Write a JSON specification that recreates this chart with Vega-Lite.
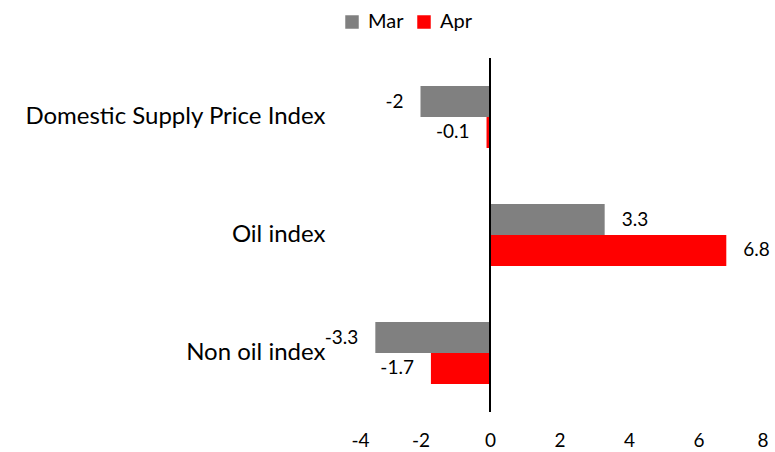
{
  "$schema": "https://vega.github.io/schema/vega-lite/v6.json",
  "width": 417,
  "height": 354,
  "autosize": {"type": "none"},
  "padding": {"left": 351, "top": 58, "right": 7, "bottom": 40},
  "background": "white",
  "config": {
    "view": {"stroke": null},
    "font": "Lato",
    "text": {"font": "Lato"}
  },
  "data": {
    "values": [
      {"category": "Domestic Supply Price Index", "month": "Mar", "value": -2, "label": "-2"},
      {"category": "Domestic Supply Price Index", "month": "Apr", "value": -0.1, "label": "-0.1"},
      {"category": "Oil index", "month": "Mar", "value": 3.3, "label": "3.3"},
      {"category": "Oil index", "month": "Apr", "value": 6.8, "label": "6.8"},
      {"category": "Non oil index", "month": "Mar", "value": -3.3, "label": "-3.3"},
      {"category": "Non oil index", "month": "Apr", "value": -1.7, "label": "-1.7"}
    ]
  },
  "encoding": {
    "y": {
      "field": "category",
      "type": "nominal",
      "sort": ["Domestic Supply Price Index", "Oil index", "Non oil index"],
      "scale": {"paddingInner": 0.475, "paddingOuter": 0.2375},
      "axis": {
        "title": null,
        "domain": false,
        "ticks": false,
        "labelPadding": 26,
        "labelFontSize": 24,
        "labelColor": "#000000",
        "labelFont": "Lato",
        "labelLimit": 400
      }
    },
    "yOffset": {"field": "month", "type": "nominal", "sort": ["Mar", "Apr"]},
    "x": {
      "field": "value",
      "type": "quantitative",
      "scale": {"domain": [-4, 8], "nice": false},
      "axis": {
        "title": null,
        "domain": false,
        "ticks": false,
        "grid": false,
        "values": [-4, -2, 0, 2, 4, 6, 8],
        "labelExpr": "'' + datum.value",
        "labelPadding": 19,
        "labelFontSize": 19,
        "labelColor": "#000000",
        "labelFont": "Lato"
      }
    }
  },
  "layer": [
    {
      "mark": {"type": "bar"},
      "encoding": {
        "color": {
          "field": "month",
          "type": "nominal",
          "sort": ["Mar", "Apr"],
          "scale": {"domain": ["Mar", "Apr"], "range": ["#808080", "#FF0000"]},
          "legend": {
            "title": null,
            "orient": "none",
            "direction": "horizontal",
            "legendX": -9,
            "legendY": -46,
            "symbolType": "square",
            "symbolSize": 182,
            "symbolStrokeWidth": 0,
            "symbolOpacity": 1,
            "labelFontSize": 20,
            "labelFont": "Lato",
            "labelColor": "#000000",
            "labelOffset": 6,
            "columnPadding": 10
          }
        }
      }
    },
    {
      "transform": [{"filter": "datum.value >= 0"}],
      "mark": {"type": "text", "align": "left", "baseline": "middle", "dx": 17, "fontSize": 19, "color": "#000000"},
      "encoding": {"text": {"field": "label"}}
    },
    {
      "transform": [{"filter": "datum.value < 0"}],
      "mark": {"type": "text", "align": "right", "baseline": "middle", "dx": -17, "fontSize": 19, "color": "#000000"},
      "encoding": {"text": {"field": "label"}}
    },
    {
      "mark": {"type": "rule", "color": "#000000", "strokeWidth": 1.5},
      "encoding": {"x": {"datum": 0}, "y": null, "yOffset": null}
    }
  ]
}
